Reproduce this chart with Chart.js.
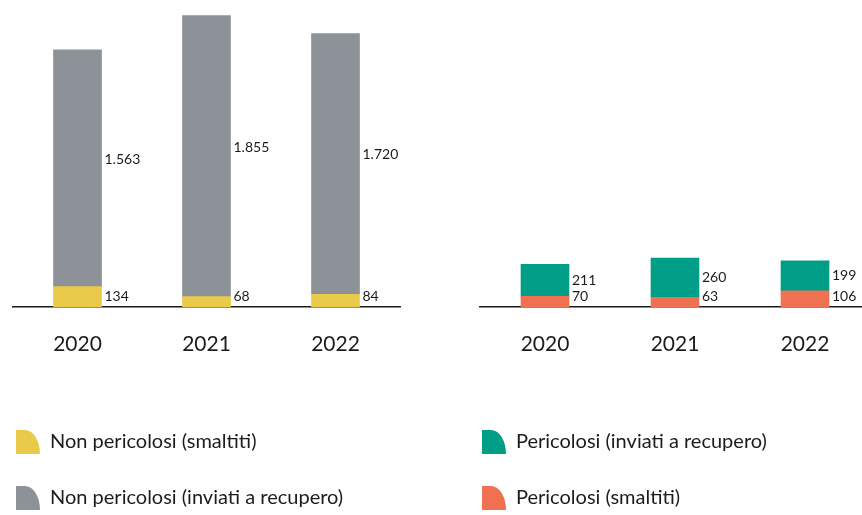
<!DOCTYPE html>
<html lang="it">
<head>
<meta charset="utf-8">
<title>Rifiuti prodotti</title>
<script src="https://cdn.jsdelivr.net/npm/chart.js@4.4.1/dist/chart.umd.min.js"></script>
<style>
    html, body { margin: 0; padding: 0; background: #fff; overflow: hidden; }
    body { position: relative; width: 862px; height: 515px; }
    .pannello { position: absolute; top: 0; }
    #pannelloSx { left: -20px; }
    #pannelloDx { left: 446px; }
</style>
</head>
<body>
<div class="pannello" id="pannelloSx"><canvas id="graficoNonPericolosi" width="460" height="518"></canvas></div>
<div class="pannello" id="pannelloDx"><canvas id="graficoPericolosi" width="440" height="518"></canvas></div>

<script>
/* --- DATI (tonnellate) --- */
const anni = ['2020', '2021', '2022'];
const nonPericolosiSmaltiti = [134, 68, 84];
const nonPericolosiRecupero = [1563, 1855, 1720];
const pericolosiSmaltiti = [70, 63, 106];
const pericolosiRecupero = [211, 260, 199];
const scalaMax = 2000;

const FONT = 'Lato, "DejaVu Sans", sans-serif';
const TESTO = '#1c1c1c';
const colori = {
    giallo: '#E9CA4B',
    grigio: '#8C9298',
    verde: '#009E86',
    arancio: '#F07052'
};

/* --- ICONA LEGENDA (quarto di ellisse) --- */
function iconaLegenda(colore) {
    const c = document.createElement('canvas');
    c.width = 24; c.height = 24;
    const ctx = c.getContext('2d');
    ctx.fillStyle = colore;
    ctx.beginPath();
    ctx.moveTo(0, 24);
    ctx.lineTo(0, 0);
    ctx.lineTo(9, 0);
    ctx.ellipse(9, 24, 15, 24, 0, -Math.PI / 2, 0);
    ctx.closePath();
    ctx.fill();
    return c;
}

/* --- ETICHETTE VALORI A DESTRA DELLE BARRE --- */
const formatoIt = (v) => String(v).replace(/\B(?=(\d{3})+(?!\d))/g, '.');

const etichetteValori = {
    id: 'etichetteValori',
    afterDatasetsDraw(chart) {
        const ctx = chart.ctx;
        ctx.save();
        ctx.font = `14px ${FONT}`;
        ctx.fillStyle = TESTO;
        ctx.textAlign = 'left';
        ctx.textBaseline = 'middle';
        chart.data.datasets.forEach((ds, i) => {
            const meta = chart.getDatasetMeta(i);
            meta.data.forEach((barra, j) => {
                const x = barra.x + barra.width / 2 + 3;
                const y = ds.posEtichetta === 'base'
                    ? barra.base - 11
                    : (barra.y + barra.base) / 2 + (ds.spostaEtichetta || 0);
                ctx.fillText(formatoIt(ds.data[j]), x, y);
            });
        });
        ctx.restore();
    }
};

function opzioni(larghezzaAsseY, paddingDestro, inverti) {
    return {
        responsive: false,
        animation: false,
        events: [],
        layout: { padding: { top: 4, right: paddingDestro, bottom: 0, left: 0 } },
        plugins: {
            tooltip: { enabled: false },
            legend: {
                position: 'bottom',
                align: 'start',
                reverse: inverti,
                labels: {
                    usePointStyle: true,
                    pointStyleWidth: 24,
                    padding: 36,
                    color: TESTO,
                    font: { family: FONT, size: 20 },
                    generateLabels: (chart) => {
                        const base = Chart.defaults.plugins.legend.labels.generateLabels(chart);
                        return base.map(item => ({ ...item, pointStyle: iconaLegenda(item.fillStyle), lineWidth: 0 }));
                    }
                }
            }
        },
        scales: {
            x: {
                stacked: true,
                grid: { display: false, drawTicks: false },
                border: { display: true, color: '#1a1a1a', width: 1.5 },
                ticks: { color: TESTO, font: { family: FONT, size: 21 }, padding: 25 },
                afterFit: (s) => { s.height = 89; }
            },
            y: {
                stacked: true,
                min: 0,
                max: scalaMax,
                grid: { display: false, drawTicks: false },
                border: { display: false },
                ticks: { display: false },
                afterFit: (s) => { s.width = larghezzaAsseY; }
            }
        }
    };
}

new Chart(document.getElementById('graficoNonPericolosi'), {
    type: 'bar',
    data: {
        labels: anni,
        datasets: [
            {
                label: 'Non pericolosi (smaltiti)',
                data: nonPericolosiSmaltiti,
                backgroundColor: colori.giallo,
                barThickness: 48,
                posEtichetta: 'base'
            },
            {
                label: 'Non pericolosi (inviati a recupero)',
                data: nonPericolosiRecupero,
                backgroundColor: colori.grigio,
                barThickness: 48,
                spostaEtichetta: -9
            }
        ]
    },
    options: opzioni(33, 40, false),
    plugins: [etichetteValori]
});

new Chart(document.getElementById('graficoPericolosi'), {
    type: 'bar',
    data: {
        labels: anni,
        datasets: [
            {
                label: 'Pericolosi (smaltiti)',
                data: pericolosiSmaltiti,
                backgroundColor: colori.arancio,
                barThickness: 48,
                posEtichetta: 'base'
            },
            {
                label: 'Pericolosi (inviati a recupero)',
                data: pericolosiRecupero,
                backgroundColor: colori.verde,
                barThickness: 48
            }
        ]
    },
    options: opzioni(34, 16, true),
    plugins: [etichetteValori]
});
</script>
</body>
</html>
